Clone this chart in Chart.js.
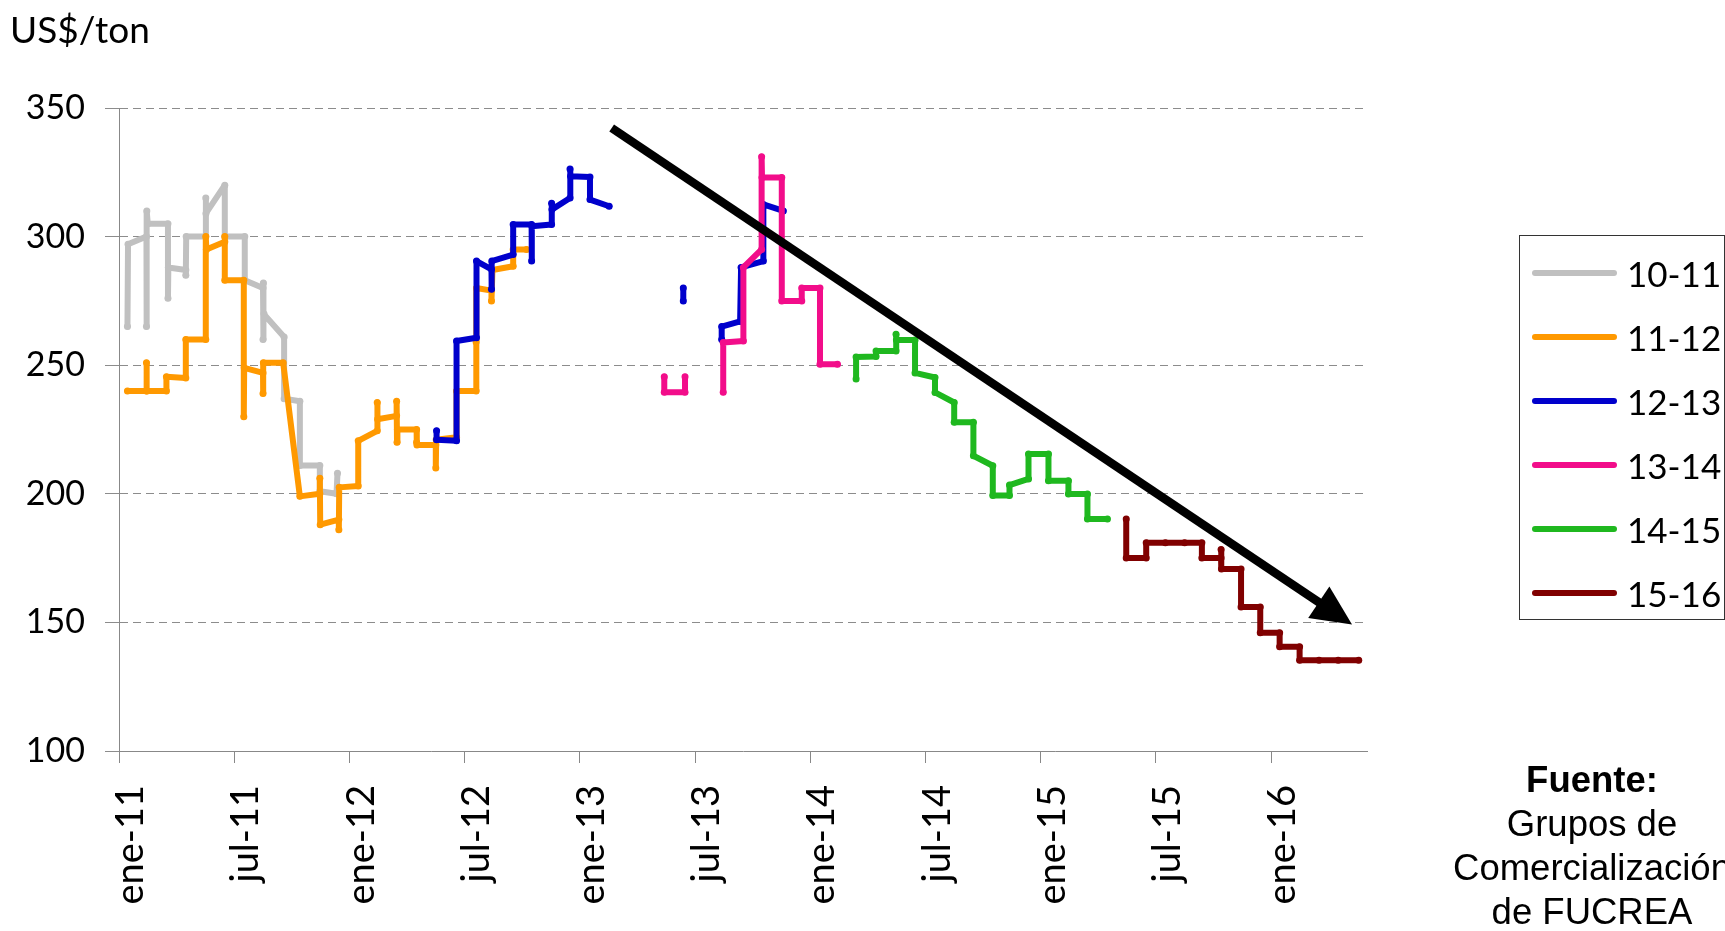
<!DOCTYPE html>
<html>
<head>
<meta charset="utf-8">
<script src="https://cdn.jsdelivr.net/npm/chart.js@4.4.1/dist/chart.umd.min.js"></script>
<style>
html, body { margin: 0; padding: 0; width: 1725px; height: 931px; overflow: hidden; background: #fff; font-family: Lato, sans-serif; }
#wrap { position: relative; width: 1725px; height: 931px; }
#chart { position: absolute; left: 0; top: 0; }
#unit { position: absolute; left: 10px; top: 10px; font-size: 37px; line-height: 37px; color: #000; }
#legend { position: absolute; left: 1519px; top: 235px; width: 206px; height: 385px; border: 1px solid #333; box-sizing: border-box; }
.item { position: absolute; left: 0; width: 100%; height: 64px; }
.swatch { position: absolute; left: 12px; top: 34px; width: 85px; height: 6px; border-radius: 3px; }
.lbl { position: absolute; left: 107px; top: 20px; font-size: 35px; line-height: 35px; color: #000; }
#source { position: absolute; left: 1392px; top: 758px; width: 400px; text-align: center; font-family: "Liberation Sans", Arial, sans-serif; font-size: 36.5px; line-height: 44px; color: #000; }
</style>
</head>
<body>
<div id="wrap">
  <canvas id="chart" width="1725" height="931"></canvas>
  <div id="unit">US$/ton</div>
  <div id="legend"></div>
  <div id="source"><b>Fuente:</b><br>Grupos de<br>Comercialización<br>de FUCREA</div>
</div>
<script>
// x = months since ene-11, y = US$/ton
const tickMonths = [0, 6, 12, 18, 24, 30, 36, 42, 48, 54, 60];
const tickLabels = ['ene-11', 'jul-11', 'ene-12', 'jul-12', 'ene-13', 'jul-13', 'ene-14', 'jul-14', 'ene-15', 'jul-15', 'ene-16'];
const yTicks = [100, 150, 200, 250, 300, 350];

const seasons = ['10-11', '11-12', '12-13', '13-14', '14-15', '15-16'];
const colors = ['#c0c0c0', '#ff9900', '#0000cc', '#f20d8a', '#1fb81f', '#800000'];

const s1011 = [[0.44,265],[0.47,297],[1.43,300],[1.43,265],[1.45,310],[1.5,305],[2.55,305],[2.55,276],[2.57,288],
  [3.48,287],[3.48,285],[3.5,300],[4.52,300],[4.52,315],[4.53,309],[5.51,320],[5.51,300],[6.55,300],[6.55,283],
  [7.5,280],[7.5,260],[7.52,282],[7.55,270],[8.6,261],[8.6,237],[9.42,236],[9.42,211],[10.46,211],[10.46,201],
  [11.33,200],[11.38,208]];

const s1112 = [[0.44,240],[1.43,240],[1.43,251],[1.45,240],[2.47,240],[2.47,245.5],[3.48,245],[3.48,260],[4.52,260],
  [4.52,300],[4.55,295],[5.51,298],[5.51,300],[5.51,283],[6.5,283],[6.5,230],[6.52,249],[7.5,247],[7.5,239],
  [7.52,251],[8.55,251],[9.42,199],[10.46,200],[10.46,206],[10.48,188],[11.45,190],[11.45,186],[11.47,202.5],
  [12.46,203],[12.46,220.6],[13.45,224.5],[13.45,235.5],[13.47,229],[14.46,230.3],[14.46,236],[14.48,220],
  [14.5,225],[15.5,225],[15.5,220],[15.52,219],[16.5,219],[16.5,210],[16.52,221],[17.58,222],[17.58,240],
  [18.6,240],[18.6,259],[18.62,280],[19.4,279],[19.4,275],[19.45,287],[20.53,288.5],[20.53,295],[21.23,295]];

const s1213 = [[16.54,224.5],[16.54,221],[17.58,220.6],[17.58,259.4],[18.62,260.7],[18.62,290.5],[19.4,287.3],
  [19.4,279.5],[19.42,290.5],[20.53,293],[20.53,304.7],[21.49,304.7],[21.49,290.5],[21.51,304],[22.53,304.7],
  [22.53,313],[22.55,310.5],[23.49,315],[23.49,326.3],[23.52,323.5],[24.53,323.2],[24.53,314.4],[25.53,311.8],
  [27,null],[29.39,280],[29.39,275],[30.5,null],[31.39,260],[31.39,265],[32.35,267],[32.4,288],[33.56,290.5],
  [33.56,312.5],[34.6,310]];

const s1314 = [[28.4,245.5],[28.4,239.5],[29.48,239.5],[29.48,245.5],[30.5,null],[31.47,239.5],[31.47,258.8],
  [32.52,259.4],[32.52,288],[33.47,295],[33.47,331],[33.49,323],[34.52,323],[34.52,275],[35.56,275],[35.56,280],
  [36.51,280],[36.51,250.4],[37.42,250.4]];

const s1415 = [[38.39,244.6],[38.39,253.2],[39.43,253.4],[39.43,255.5],[40.47,255.5],[40.47,262],[40.49,259.8],
  [41.46,259.8],[41.46,247],[42.5,245.2],[42.5,239.4],[43.5,235.5],[43.5,227.8],[44.5,227.8],[44.5,214.8],
  [45.51,210.9],[45.51,199.3],[46.38,199.3],[46.38,203.4],[47.37,205.8],[47.37,215.5],[48.41,215.5],[48.41,205.1],
  [49.45,205.1],[49.45,199.9],[50.44,199.9],[50.44,190.2],[51.48,190.2]];

const s1516 = [[52.46,190.2],[52.46,175],[53.5,175],[53.5,181],[54.5,181],[55.5,181],[56.4,181],[56.4,175],
  [57.4,175],[57.4,178.3],[57.42,170.8],[58.44,170.8],[58.44,156],[59.44,156],[59.44,146],[60.45,146],
  [60.45,140.5],[61.49,140.5],[61.49,135.3],[62.5,135.3],[63.5,135.3],[64.57,135.3]];

const seriesData = [s1011, s1112, s1213, s1314, s1415, s1516];

// trend arrow, in data units (month, US$/ton)
const arrowFrom = [25.66, 342.2];
const arrowTo = [64.22, 149.2];

const arrowPlugin = {
  id: 'trendArrow',
  afterDatasetsDraw(chart) {
    const ctx = chart.ctx;
    const xs = chart.scales.x, ys = chart.scales.y;
    const x1 = xs.getPixelForValue(arrowFrom[0]), y1 = ys.getPixelForValue(arrowFrom[1]);
    const x2 = xs.getPixelForValue(arrowTo[0]), y2 = ys.getPixelForValue(arrowTo[1]);
    const a = Math.atan2(y2 - y1, x2 - x1);
    const headLen = 40, headW = 19;
    const bx = x2 - headLen * Math.cos(a), by = y2 - headLen * Math.sin(a);
    ctx.save();
    ctx.strokeStyle = '#000';
    ctx.fillStyle = '#000';
    ctx.lineWidth = 8.5;
    ctx.beginPath();
    ctx.moveTo(x1, y1);
    ctx.lineTo(bx + 3 * Math.cos(a), by + 3 * Math.sin(a));
    ctx.stroke();
    ctx.beginPath();
    ctx.moveTo(x2, y2);
    ctx.lineTo(bx + headW * Math.sin(a), by - headW * Math.cos(a));
    ctx.lineTo(bx - headW * Math.sin(a), by + headW * Math.cos(a));
    ctx.closePath();
    ctx.fill();
    ctx.restore();
  }
};

const datasets = seriesData.map((pts, i) => ({
  label: seasons[i],
  data: pts.map(p => ({ x: p[0], y: p[1] })),
  borderColor: colors[i],
  backgroundColor: colors[i],
  borderWidth: 6,
  pointRadius: 3.5,
  pointBorderWidth: 0,
  pointBackgroundColor: colors[i],
  borderJoinStyle: 'round',
  borderCapStyle: 'round',
  tension: 0,
  spanGaps: false,
  order: -i
}));

const ctx = document.getElementById('chart').getContext('2d');
const myChart = new Chart(ctx, {
  type: 'line',
  data: { datasets },
  options: {
    responsive: false,
    animation: false,
    devicePixelRatio: 1,
    layout: { padding: { top: 108, right: 358, left: 0, bottom: 0 } },
    plugins: { legend: { display: false }, tooltip: { enabled: false } },
    scales: {
      x: {
        type: 'linear',
        min: 0,
        max: 65,
        afterBuildTicks: scale => { scale.ticks = tickMonths.map(v => ({ value: v })); },
        afterFit: scale => { scale.height = 180; },
        ticks: {
          autoSkip: false,
          minRotation: 90,
          maxRotation: 90,
          padding: 22,
          labelOffset: 12,
          color: '#000',
          font: { family: 'Lato', size: 38 },
          callback: v => tickLabels[tickMonths.indexOf(v)]
        },
        grid: { drawOnChartArea: false, drawTicks: true, tickLength: 12, color: '#888' },
        border: { color: '#888', width: 1 }
      },
      y: {
        type: 'linear',
        min: 100,
        max: 350,
        afterBuildTicks: scale => { scale.ticks = yTicks.map(v => ({ value: v })); },
        afterFit: scale => { scale.width = 119; },
        ticks: {
          padding: 20,
          color: '#000',
          font: { family: 'Lato', size: 34 }
        },
        grid: { color: '#8c8c8c', tickLength: 14, lineWidth: 1 },
        border: { color: '#888', width: 1, dash: [8, 5] }
      }
    }
  },
  plugins: [arrowPlugin]
});

// legend
const legend = document.getElementById('legend');
seasons.forEach((s, i) => {
  const item = document.createElement('div');
  item.className = 'item';
  item.style.top = (i * 64) + 'px';
  item.innerHTML = '<div class="swatch" style="background:' + colors[i] + '"></div><div class="lbl">' + s + '</div>';
  legend.appendChild(item);
});
</script>
</body>
</html>
